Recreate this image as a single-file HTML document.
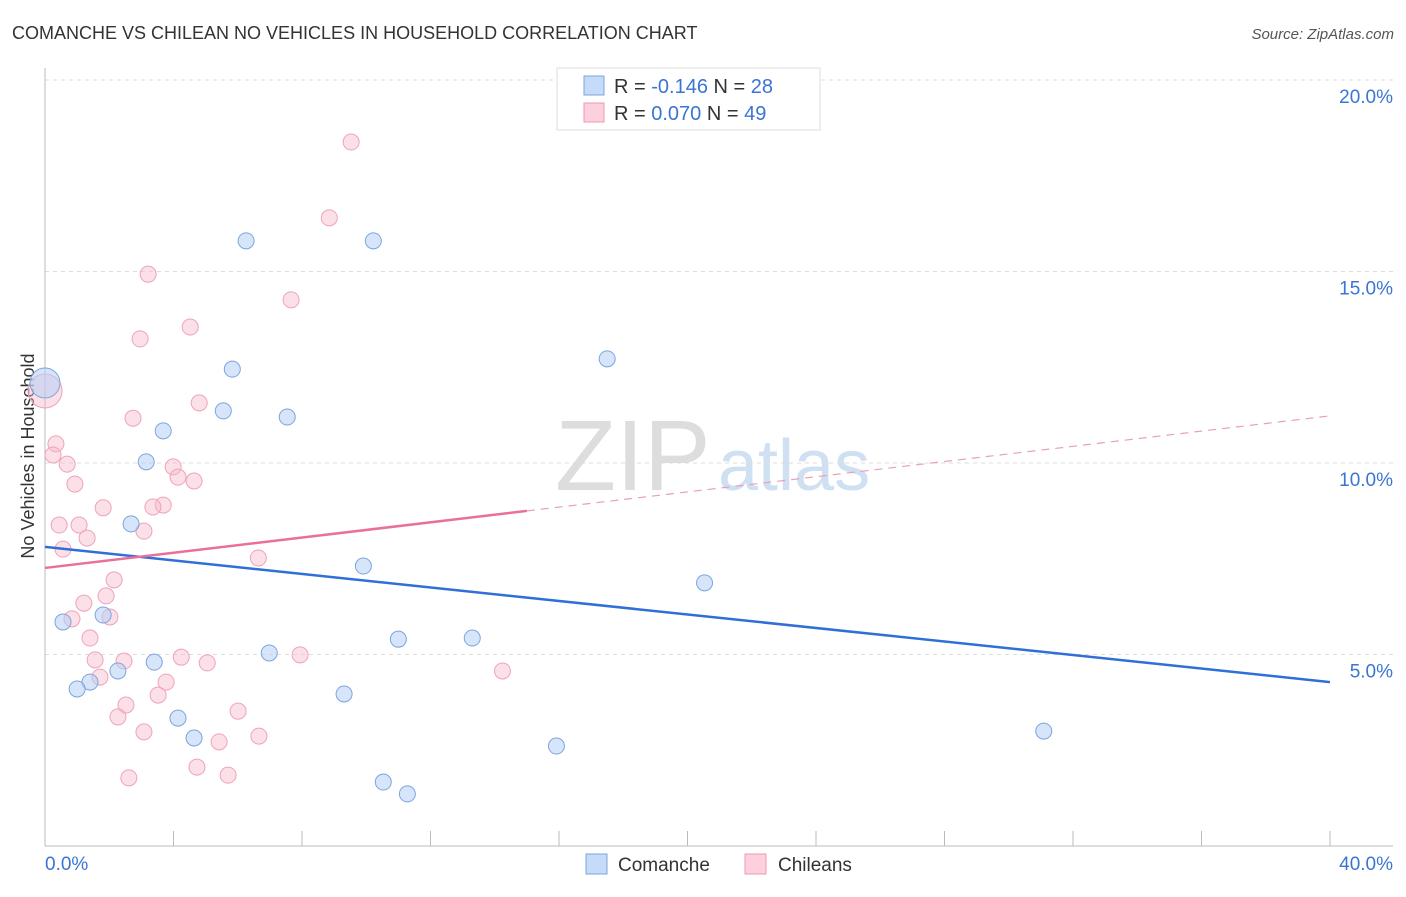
<!DOCTYPE html>
<html><head><meta charset="utf-8"><style>
body{margin:0;background:#fff;font-family:"Liberation Sans",sans-serif}
svg text{font-family:"Liberation Sans",sans-serif}
</style></head><body>
<svg id="c" width="1406" height="892">
<text x="12" y="39" font-size="18" fill="#333">COMANCHE VS CHILEAN NO VEHICLES IN HOUSEHOLD CORRELATION CHART</text>
<text x="1394" y="39" font-size="15" fill="#555" font-style="italic" text-anchor="end">Source: ZipAtlas.com</text>
<text x="555" y="490" font-size="100" fill="#ddd" font-family="Liberation Serif">ZIP</text>
<text x="718" y="490" font-size="72" fill="#cfe0f3">atlas</text>
<text transform="translate(34,456) rotate(-90)" font-size="18" fill="#333" text-anchor="middle">No Vehicles in Household</text>
<g id="grid"></g><g id="marks"></g>
<g>
<rect x="557" y="68" width="263" height="62" fill="#fff" stroke="#ddd"/>
<rect x="584" y="76" width="20" height="19" fill="#c6dbf7" stroke="#7aa6e0"/>
<rect x="584" y="103" width="20" height="19" fill="#fcd0dc" stroke="#eb9ab2"/>
<text x="614" y="93" font-size="20" fill="#333">R = <tspan fill="#3a75d4">-0.146</tspan>   N = <tspan fill="#3a75d4">28</tspan></text>
<text x="614" y="120" font-size="20" fill="#333">R =  <tspan fill="#3a75d4">0.070</tspan>   N = <tspan fill="#3a75d4">49</tspan></text>
</g>
<g>
<rect x="586" y="854" width="21" height="20" fill="#c6dbf7" stroke="#7aa6e0"/>
<text x="618" y="871" font-size="19" fill="#333">Comanche</text>
<rect x="745" y="854" width="21" height="20" fill="#fcd0dc" stroke="#eb9ab2"/>
<text x="778" y="871" font-size="19" fill="#333">Chileans</text>
</g>
</svg>
<script>
const comancheX=[0,6.26,10.22,5.83,5.55,7.54,3.68,3.15,2.68,17.5,9.91,20.53,0.56,1.81,11.0,13.3,6.98,3.40,2.27,1.40,1.0,9.31,4.14,4.64,15.92,31.09,10.53,11.28];
const comancheY=[12.09,15.8,15.8,12.45,11.36,11.2,10.84,10.03,8.41,12.72,7.31,6.87,5.85,6.03,5.40,5.43,5.04,4.80,4.57,4.28,4.10,3.97,3.34,2.82,2.61,3.0,1.67,1.36];
const chileanX=[0,9.53,8.85,3.21,7.66,4.52,2.96,4.80,2.74,0.34,0.25,0.69,0.93,3.99,4.14,4.64,1.81,3.68,3.36,3.08,0.44,1.06,1.31,0.56,6.64,2.15,1.21,1.90,2.02,0.84,1.40,1.56,2.46,4.24,5.05,7.94,14.24,3.77,1.71,3.52,2.52,2.27,6.01,3.08,5.42,6.66,4.73,5.70,2.61];
const chileanY=[11.88,18.38,16.4,14.93,14.26,13.55,13.24,11.57,11.17,10.5,10.21,9.97,9.45,9.90,9.63,9.53,8.83,8.90,8.85,8.22,8.38,8.38,8.04,7.75,7.52,6.95,6.34,6.53,5.98,5.93,5.43,4.86,4.83,4.93,4.78,4.99,4.57,4.28,4.41,3.94,3.68,3.37,3.52,2.98,2.72,2.87,2.06,1.85,1.78];
const comancheTrend=[7.81,4.28];
const chileanTrend=[7.26,11.23];
const yTicks=[5,10,15,20];
const yTickLabels=["5.0%","10.0%","15.0%","20.0%"];
const xTickLabels=["0.0%","40.0%"];
const sx=v=>45+v*1285/40, sy=v=>846-v*191.5/5;
const NS="http://www.w3.org/2000/svg";
function mk(tag,attrs,parent){const e=document.createElementNS(NS,tag);for(const k in attrs)e.setAttribute(k,attrs[k]);parent.appendChild(e);return e;}
const g=document.getElementById('grid'), m=document.getElementById('marks');
yTicks.forEach((t,i)=>{
 const l=mk('line',{x1:45,x2:1393,y1:sy(t),y2:sy(t),stroke:'#ddd','stroke-dasharray':'4,4'},g);
 
 
 const tx=mk('text',{x:1393,y:sy(t)+23,'font-size':19,fill:'#3a75d4','text-anchor':'end'},g);
 tx.textContent=yTickLabels[i];
 
 
});
for(let i=0;i<=10;i++){
 const l=mk('line',{x1:sx(i*4),x2:sx(i*4),y1:831,y2:846,stroke:'#bbb'},g);
 
 
}
const ax=mk('line',{x1:45,x2:45,y1:68,y2:846,stroke:'#bbb'},g);


const bx=mk('line',{x1:45,x2:1393,y1:846,y2:846,stroke:'#bbb'},g);


xTickLabels.forEach((s,i)=>{
 const t=mk('text',{x:i?1393:45,y:870,'font-size':19,fill:'#3a75d4','text-anchor':i?'end':'start'},g);
 t.textContent=s;
 
 
});
chileanX.forEach((x,i)=>{
 const c=mk('circle',{cx:sx(x),cy:sy(chileanY[i]),r:i==0?17:8,fill:'rgba(248,186,205,0.45)',stroke:'#eea3ba','stroke-width':1},m);
 
 
});
comancheX.forEach((x,i)=>{
 const c=mk('circle',{cx:sx(x),cy:sy(comancheY[i]),r:i==0?15:8,fill:'rgba(180,208,245,0.55)',stroke:'#7ba5dd','stroke-width':1},m);
 
 
});
const bt=mk('line',{x1:sx(0),y1:sy(comancheTrend[0]),x2:sx(40),y2:sy(comancheTrend[1]),stroke:'#2f6fd6','stroke-width':2.5},m);


const pAt=x=>chileanTrend[0]+(chileanTrend[1]-chileanTrend[0])*x/40;
const pt=mk('line',{x1:sx(0),y1:sy(pAt(0)),x2:sx(15),y2:sy(pAt(15)),stroke:'#e8709a','stroke-width':2.5},m);


const pd=mk('line',{x1:sx(15),y1:sy(pAt(15)),x2:sx(40),y2:sy(pAt(40)),stroke:'#e8a0b8','stroke-width':1.2,'stroke-dasharray':'8,6'},m);


</script>
</body></html>
